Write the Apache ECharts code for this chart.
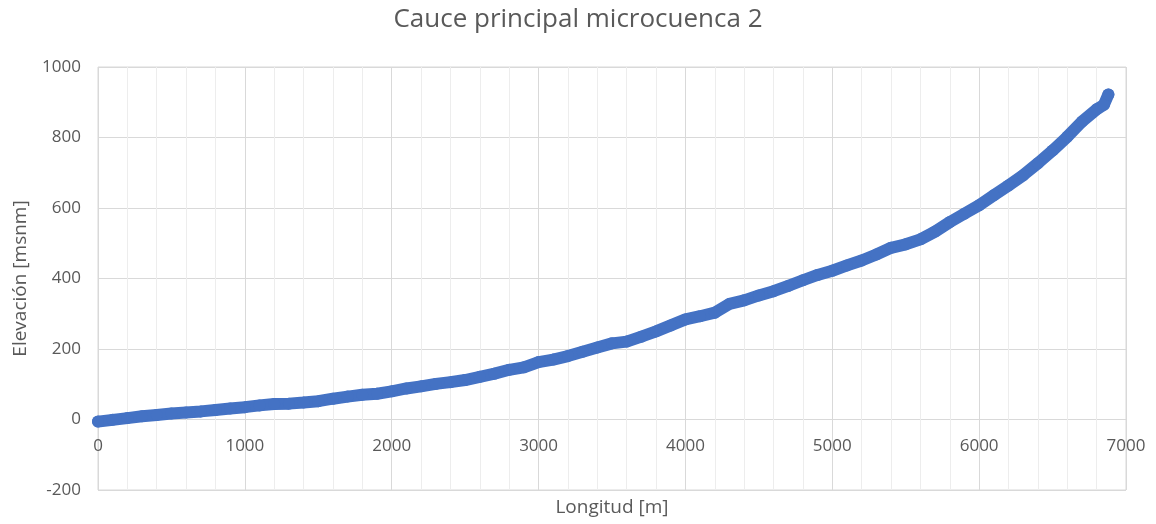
<!DOCTYPE html>
<html>
<head>
<meta charset="utf-8">
<script src="https://cdn.jsdelivr.net/npm/echarts@6/dist/echarts.min.js"></script>
<style>
  html, body { margin: 0; padding: 0; background: #ffffff; }
  #chart { width: 1156px; height: 524px; }
</style>
</head>
<body>
<div id="chart"></div>
<script>
// Longitudinal profile of the main channel: distance along the channel [m]
const longitud = [
  0, 100, 200, 300, 400, 500, 600, 700, 800, 900,
  1000, 1100, 1200, 1300, 1400, 1500, 1600, 1700, 1800, 1900,
  2000, 2100, 2200, 2300, 2400, 2500, 2600, 2700, 2800, 2900,
  3000, 3100, 3200, 3300, 3400, 3500, 3600, 3700, 3800, 3900,
  4000, 4100, 4200, 4300, 4400, 4500, 4600, 4700, 4800, 4900,
  5000, 5100, 5200, 5300, 5400, 5500, 5600, 5700, 5800, 5900,
  6000, 6100, 6200, 6300, 6400, 6500, 6600, 6700, 6800, 6850, 6880
];
// Elevation [msnm] at each distance
const elevacion = [
  -6, -1, 4, 9, 13, 17, 20, 23, 27, 31,
  35, 40, 44, 45, 48, 52, 59, 65, 70, 73,
  80, 88, 94, 101, 106, 112, 121, 130, 141, 148,
  163, 170, 180, 192, 204, 216, 221, 235, 250, 267,
  284, 293, 303, 328, 338, 352, 364, 379, 395, 410,
  422, 437, 451, 468, 487, 497, 511, 533, 560, 584,
  608, 636, 664, 693, 727, 763, 802, 845, 880, 893, 922
];
// Axis ranges and tick spacing
const xTicks = { min: 0, max: 7000, interval: 1000 };
const yTicks = { min: -200, max: 1000, interval: 200 };

const points = longitud.map((x, i) => [x, elevacion[i]]);

const textColor = '#595959';
const gridColor = '#d9d9d9';
const font = '"Open Sans", "Liberation Sans", sans-serif';
const plain = v => String(v);

const chart = echarts.init(document.getElementById('chart'));
chart.setOption({
  animation: false,
  backgroundColor: '#ffffff',
  title: {
    text: 'Cauce principal microcuenca 2',
    left: 'center',
    top: 2,
    textStyle: { color: textColor, fontSize: 26, fontWeight: 'normal', fontFamily: font }
  },
  grid: {
    left: 98, right: 30, top: 67, bottom: 34,
    outerBoundsMode: 'none',
    show: true, borderColor: gridColor, borderWidth: 1
  },
  xAxis: {
    type: 'value',
    position: 'bottom',
    min: xTicks.min, max: xTicks.max, interval: xTicks.interval,
    name: 'Longitud [m]',
    nameLocation: 'middle',
    nameGap: 8,
    nameTextStyle: { color: textColor, fontSize: 19, fontFamily: font, verticalAlign: 'top' },
    axisLine: { show: false, onZero: false },
    axisTick: { show: false },
    // tick labels sit just under the zero line of the elevation axis
    axisLabel: { color: textColor, fontSize: 17, fontFamily: font, margin: -52, formatter: plain },
    splitLine: { show: true, lineStyle: { color: gridColor, width: 1 } },
    minorTick: { show: false, splitNumber: 5 },
    minorSplitLine: { show: true, lineStyle: { color: '#ededed', width: 1 } }
  },
  yAxis: {
    type: 'value',
    min: yTicks.min, max: yTicks.max, interval: yTicks.interval,
    name: 'Elevación [msnm]',
    nameLocation: 'middle',
    nameGap: 68,
    nameTextStyle: { color: textColor, fontSize: 19, fontFamily: font },
    axisLine: { show: false },
    axisTick: { show: false },
    axisLabel: { color: textColor, fontSize: 17, fontFamily: font, margin: 17, formatter: plain },
    splitLine: { show: true, lineStyle: { color: gridColor, width: 1 } }
  },
  series: [{
    type: 'line',
    data: points,
    symbol: 'circle',
    symbolSize: 12,
    showSymbol: true,
    itemStyle: { color: '#4472C4' },
    lineStyle: { color: '#4472C4', width: 12, cap: 'round', join: 'round' },
    z: 5
  }]
});
</script>
</body>
</html>
